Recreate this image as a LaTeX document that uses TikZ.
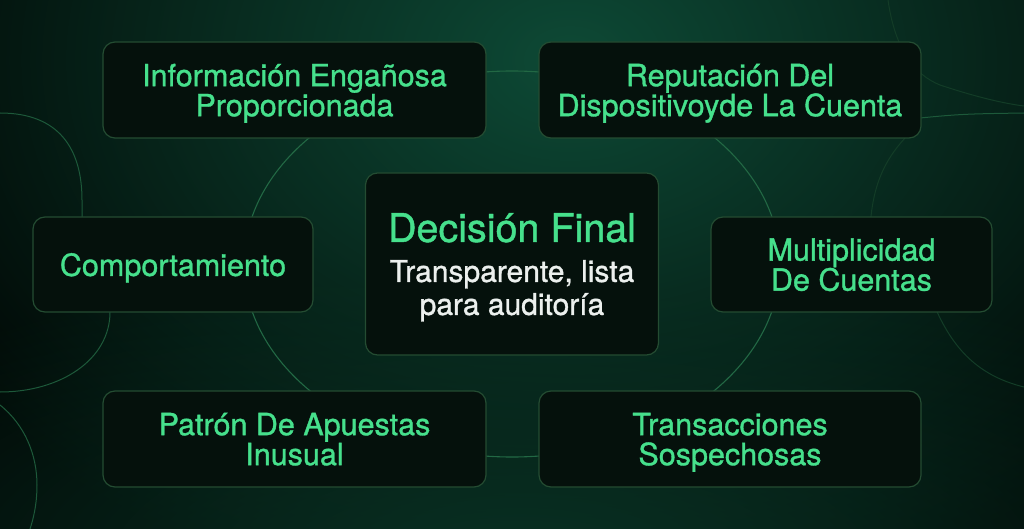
\documentclass[tikz,border=0pt]{standalone}
\usepackage{fontspec}
\setmainfont{TeX Gyre Heros}
\newfontfamily\seminegra{TeX Gyre Heros}[FakeBold=1.1]
\usetikzlibrary{fadings}
\tikzfading[name=halo, inner color=transparent!0, outer color=transparent!100]
\definecolor{fondo}{RGB}{1,6,4}
\definecolor{brillo}{RGB}{14,74,54}
\definecolor{relleno}{RGB}{5,17,12}
\definecolor{borde}{RGB}{36,76,50}
\definecolor{linea}{RGB}{34,104,68}
\definecolor{verde}{RGB}{70,224,140}
\definecolor{blanco}{RGB}{236,240,238}
\begin{document}
\begin{tikzpicture}[x=1pt, y=-1pt,
    caja/.style={draw=borde, fill=relleno, line width=1.2pt, rounded corners=12pt,
        minimum height=96pt, inner sep=0pt, text depth=0pt, align=center, text=verde,
        font=\seminegra\fontsize{30.5}{30}\selectfont},
    anillo/.style={draw=linea, line width=1.1pt},
    deco/.style={draw=linea!85!fondo, line width=1pt},
    decotenue/.style={draw=linea!55!fondo, line width=1pt}]
    \useasboundingbox (0,0) rectangle (1024,529);
    \fill [fondo] (0,0) rectangle (1024,529);
    \begin{scope}
        \clip (0,0) rectangle (1024,529);
        \fill [brillo, path fading=halo, fit fading=true] (570,60) ellipse [x radius=760, y radius=560];
        \fill [brillo!65!fondo, path fading=halo, fit fading=true] (520,570) ellipse [x radius=820, y radius=320];
        % formas del borde
        \draw [deco] (0,113) .. controls (60,113) and (82,150) .. (82,200) -- (82,260)
            .. controls (100,280) .. (110,312) .. controls (110,360) and (60,392) .. (0,392);
        \draw [deco] (0,405) .. controls (25,425) and (37,455) .. (37,485) .. controls (37,505) and (33,520) .. (30,529);
        \draw [decotenue] (888,0) .. controls (895,50) and (915,75) .. (940,85) .. controls (970,95) and (1000,103) .. (1024,106);
        \draw [deco] (900,120) .. controls (960,114) .. (1024,113);
        \draw [decotenue] (905,138) .. controls (885,160) and (872,185) .. (870,230);
        \draw [decotenue] (932,300) .. controls (950,345) and (975,375) .. (1024,387);
    \end{scope}
    \coordinate (centro) at (512,264);
    \draw [anillo] (centro) ellipse [x radius=268, y radius=193];
    \node [caja, minimum width=383pt] (informacion) at (294.5, 90) {Información Engañosa\\Proporcionada};
    \node [caja, minimum width=382pt] (reputacion) at (730, 90) {Reputación Del\\Dispositivoyde La Cuenta};
    \node [caja, minimum width=280pt, minimum height=95pt] (comportamiento) at (173, 264.5) {Comportamiento};
    \node [caja, minimum width=281pt, minimum height=95pt] (multiplicidad) at (851.5, 264.5) {Multiplicidad\\De Cuentas};
    \node [caja, minimum width=383pt] (patron) at (294.5, 439) {Patrón De Apuestas\\Inusual};
    \node [caja, minimum width=382pt] (transacciones) at (730, 439) {Transacciones\\Sospechosas};
    \node [caja, minimum width=293pt, minimum height=182pt, text=blanco,
        font=\seminegra\fontsize{30}{33}\selectfont] (decision) at (centro)
        {{\color{verde}\fontsize{39.5}{40}\selectfont Decisión Final}\\[7pt]Transparente, lista\\para auditoría};
\end{tikzpicture}
\end{document}
